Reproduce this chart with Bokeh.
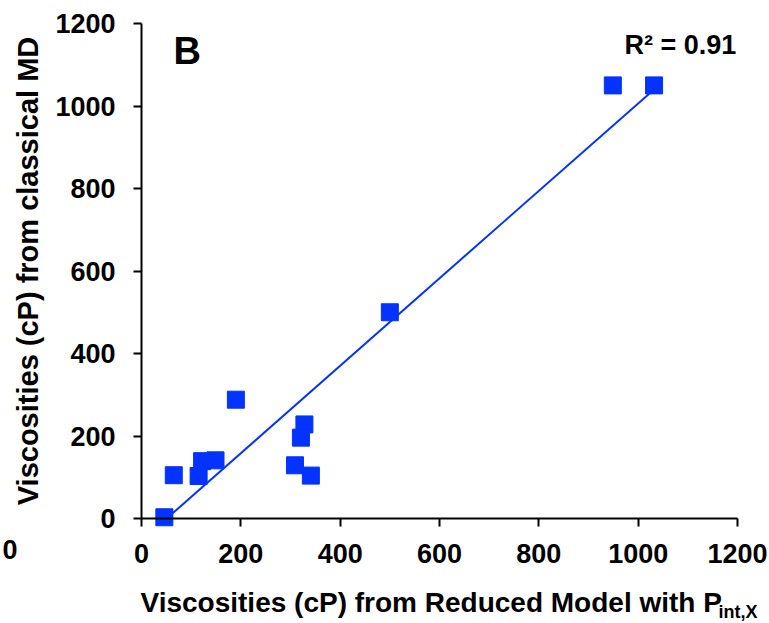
import numpy as np
from bokeh.plotting import figure
from bokeh.models import Label, Range1d, FixedTicker
from bokeh.embed import file_html
from bokeh.resources import INLINE

# Data
reduced_model = [46, 65, 115, 122, 149, 190, 328, 321, 309, 341, 500, 949, 1032]
classical_md = [3, 105, 103, 139, 141, 288, 228, 196, 129, 104, 500, 1050, 1050]
ticks = [0, 200, 400, 600, 800, 1000, 1200]
r2_text = "R\u00b2 = 0.91"
panel_letter = "B"
x_title = "Viscosities (cP) from Reduced Model with P"
x_title_sub = "int,X"
y_title = "Viscosities (cP) from classical MD"
stray_label = "0"   # clipped tick label of the neighbouring panel

BLUE = "#0433ff"
FONT = "Liberation Sans"

# pixel layout of the reference: axes box x 141..737, y 518..23
X0_PX, X1_PX, Y0_PX, Y1_PX = 141, 737, 518, 23
SX = (X1_PX - X0_PX) / 1200.0
SY = (Y0_PX - Y1_PX) / 1200.0
W, H = 769, 623

# the frame fills the whole canvas; axes sit at 0 with bounds 0..1200
p = figure(width=W, height=H, output_backend="svg", toolbar_location=None,
           x_range=Range1d(-X0_PX / SX, (W - X0_PX) / SX),
           y_range=Range1d(-(H - Y0_PX) / SY, Y0_PX / SY),
           min_border_left=0, min_border_right=0, min_border_top=0,
           min_border_bottom=0)
p.outline_line_color = None
p.xgrid.visible = False
p.ygrid.visible = False
p.background_fill_color = "white"
p.border_fill_color = "white"

for ax in (p.xaxis[0], p.yaxis[0]):
    ax.ticker = FixedTicker(ticks=ticks)
    ax.fixed_location = 0
    ax.bounds = (0, 1200)
    ax.minor_tick_line_color = None
    ax.major_tick_in = 0
    ax.major_tick_out = 8
    ax.axis_line_width = 2
    ax.major_tick_line_width = 2
    ax.axis_line_color = "black"
    ax.major_tick_line_color = "black"
    ax.major_label_text_font = FONT
    ax.major_label_text_font_style = "bold"
    ax.major_label_text_font_size = "27px"
    ax.major_label_text_color = "black"
    ax.axis_label_text_font = FONT
    ax.axis_label_text_font_style = "bold"
    ax.axis_label_text_color = "black"

p.xaxis.major_label_standoff = 17
p.yaxis.major_label_standoff = 18
p.yaxis.axis_label = y_title
p.yaxis.axis_label_text_font_size = "29px"
p.yaxis.axis_label_standoff = 8

# regression line from data
slope, intercept = np.polyfit(reduced_model, classical_md, 1)
xs = np.array([min(reduced_model), max(reduced_model)])
p.line(xs, slope * xs + intercept, line_color=BLUE, line_width=2)

p.scatter(reduced_model, classical_md, marker="square", size=17,
          fill_color=BLUE, line_color=BLUE)


def dx(px):
    return (px - X0_PX) / SX


def dy(py):
    return (Y0_PX - py) / SY


def txt(x, y, t, size):
    return Label(x=x, y=y, text=t, text_font=FONT, text_font_style="bold",
                 text_font_size=size, text_baseline="alphabetic",
                 text_color="black")


p.add_layout(txt(dx(173), dy(50), panel_letter, "38px"))
p.add_layout(txt(dx(624), dy(44), r2_text, "27px"))
p.add_layout(txt(dx(140), dy(602), x_title, "28px"))
p.add_layout(txt(dx(718), dy(611), x_title_sub, "18px"))
p.add_layout(txt(dx(2), dy(549), stray_label, "27px"))

open("out.html", "w").write(file_html(p, INLINE))
